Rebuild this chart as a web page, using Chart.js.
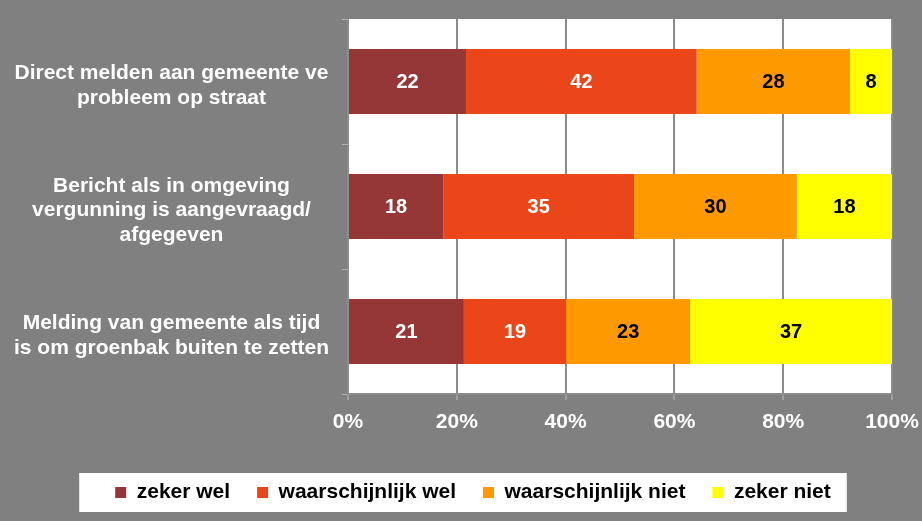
<!DOCTYPE html>
<html>
<head>
<meta charset="utf-8">
<script src="https://cdn.jsdelivr.net/npm/chart.js@4"></script>
<style>
  html, body { margin: 0; padding: 0; background: #808080; }
  #wrap { width: 922px; height: 521px; }
</style>
</head>
<body>
<div id="wrap"><canvas id="chart"></canvas></div>
<script>
// Categories (multi-line labels as shown)
const categories = [
  ['Direct melden aan gemeente ve', 'probleem op straat'],
  ['Bericht als in omgeving', 'vergunning is aangevraagd/', 'afgegeven'],
  ['Melding van gemeente als tijd', 'is om groenbak buiten te zetten']
];

// Series values (percent)
const zekerWel = [21.7, 17.5, 21.3];
const waarschijnlijkWel = [42.4, 35.1, 18.8];
const waarschijnlijkNiet = [28.2, 29.9, 22.8];
const zekerNiet = [7.7, 17.5, 37.1];

const seriesNames = ['zeker wel', 'waarschijnlijk wel', 'waarschijnlijk niet', 'zeker niet'];
const seriesColors = ['#943736', '#EB4619', '#FF9900', '#FFFF00'];
const labelColors = ['#fff', '#fff', '#000', '#000'];

// x axis tick labels
const tickLabels = ['0%', '20%', '40%', '60%', '80%', '100%'];

const FONT = "'Liberation Sans', Arial, sans-serif";

// Background, white plot area and white legend box
const backdrop = {
  id: 'backdrop',
  afterLayout(chart) {
    // legend row sits a bit right of the canvas centre
    chart.legend.left += 27;
    chart.legend.right += 27;
  },
  beforeDraw(chart) {
    const { ctx, chartArea: a, legend } = chart;
    ctx.save();
    ctx.fillStyle = '#808080';
    ctx.fillRect(0, 0, chart.width, chart.height);
    ctx.fillStyle = '#fff';
    ctx.fillRect(a.left, a.top, a.right - a.left, a.bottom - a.top);
    const boxes = legend.legendHitBoxes;
    if (boxes && boxes.length) {
      const first = boxes[0];
      const last = boxes[boxes.length - 1];
      const x0 = first.left - 36;
      const x1 = last.left + last.width + 16;
      ctx.fillRect(x0, 473, x1 - x0, 39);
    }
    ctx.restore();
  }
};

// Value labels in the middle of each segment
const valueLabels = {
  id: 'valueLabels',
  afterDatasetsDraw(chart) {
    const ctx = chart.ctx;
    ctx.save();
    ctx.font = 'bold 20px ' + FONT;
    ctx.textAlign = 'center';
    ctx.textBaseline = 'middle';
    chart.data.datasets.forEach((ds, i) => {
      const meta = chart.getDatasetMeta(i);
      meta.data.forEach((bar, j) => {
        const { x, base, y } = bar.getProps(['x', 'base', 'y'], true);
        ctx.fillStyle = labelColors[i];
        ctx.fillText(String(Math.round(ds.data[j])), (x + base) / 2, y + 1);
      });
    });
    ctx.restore();
  }
};

const seriesData = [zekerWel, waarschijnlijkWel, waarschijnlijkNiet, zekerNiet];

new Chart(document.getElementById('chart'), {
  type: 'bar',
  data: {
    labels: categories,
    datasets: seriesData.map((d, i) => ({
      label: seriesNames[i],
      data: d,
      backgroundColor: seriesColors[i],
      borderWidth: 0,
      barPercentage: 0.52,
      categoryPercentage: 1
    }))
  },
  options: {
    indexAxis: 'y',
    responsive: true,
    maintainAspectRatio: false,
    animation: false,
    devicePixelRatio: 1,
    layout: {
      padding: { top: 19, right: 30, left: 0, bottom: 8 }
    },
    plugins: {
      legend: {
        position: 'bottom',
        labels: {
          boxWidth: 11,
          boxHeight: 11,
          padding: 27,
          color: '#000',
          font: { family: FONT, size: 21, weight: 'bold' }
        }
      },
      tooltip: { enabled: false }
    },
    scales: {
      x: {
        stacked: true,
        min: 0,
        max: 100,
        afterFit: (scale) => {
          scale.height = 61;
          scale.paddingLeft = 0;
          scale.paddingRight = 0;
        },
        grid: {
          color: '#8c8c8c',
          lineWidth: 2,
          tickColor: '#a0a0a0',
          tickLength: 6
        },
        border: { color: '#8c8c8c', width: 2 },
        ticks: {
          stepSize: 20,
          padding: 10,
          color: '#fff',
          font: { family: FONT, size: 21, weight: 'bold' },
          callback: (value, index) => tickLabels[index]
        }
      },
      y: {
        stacked: true,
        afterFit: (scale) => {
          scale.width = 348;
          scale.paddingTop = 0;
          scale.paddingBottom = 0;
        },
        grid: {
          drawOnChartArea: false,
          tickColor: '#b0b0b0',
          tickLength: 6
        },
        border: { display: false },
        ticks: {
          crossAlign: 'center',
          padding: 13,
          labelOffset: 4,
          color: '#fff',
          font: { family: FONT, size: 21, weight: 'bold', lineHeight: 1.18 }
        }
      }
    }
  },
  plugins: [backdrop, valueLabels]
});
</script>
</body>
</html>
